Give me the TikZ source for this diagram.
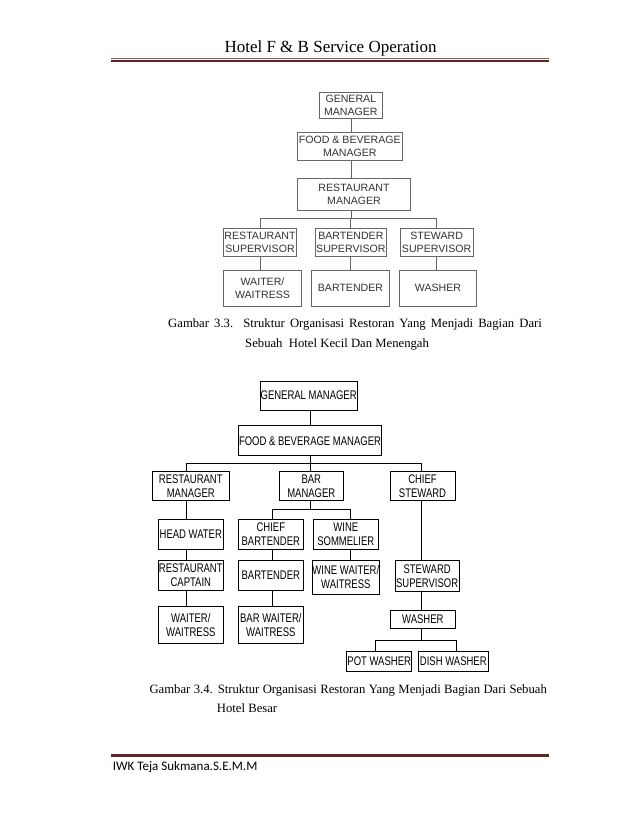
\documentclass[tikz,border=0pt]{standalone}
\usepackage{fontspec}
\setmainfont{Liberation Serif}
\newfontfamily\arialf{Liberation Sans}
\newfontfamily\arialc[FakeStretch=0.76]{Liberation Sans}
\newfontfamily\calib{Carlito}
\definecolor{hdrmaroon}{RGB}{98,36,35}
\definecolor{hdrlight}{RGB}{150,90,88}
\begin{document}
\begin{tikzpicture}[x=1pt,y=-1pt,
  boxa/.style={draw=black!60, line width=0.8pt, inner sep=0pt, align=center,
    font=\arialf\fontsize{10.6}{12.7}\selectfont, text=black!80},
  boxb/.style={draw=black, line width=0.7pt, inner sep=0pt, align=center,
    font=\arialc\fontsize{12.5}{13.7}\selectfont},
  la/.style={draw=black!60, line width=0.8pt},
  lb/.style={draw=black, line width=0.7pt},
  captxt/.style={inner sep=0pt, font=\fontsize{12.7}{15}\selectfont}]
\useasboundingbox (0,0) rectangle (638,826);
\fill[white] (0,0) rectangle (638,826);

% header
\node[anchor=base, inner sep=0pt, font=\fontsize{17}{20}\selectfont] (hdr) at (330.5,52.7) {Hotel F \& B Service Operation};
\coordinate (hl) at (111,61); \coordinate (hr) at (549,61);
\draw[hdrmaroon, line width=2.4pt] (hl) -- (hr);
\draw[hdrlight, line width=0.6pt] ([yshift=2.6pt]hl) -- ([yshift=2.6pt]hr);

% ---------- chart 1 ----------
\node[boxa, minimum width=63.7pt, minimum height=26pt] (gm1) at (350.85,105.3) {GENERAL\\MANAGER};
\node[boxa, minimum width=105pt, minimum height=28.4pt] (fb1) at (349.8,146.5) {FOOD \& BEVERAGE\\MANAGER};
\node[boxa, minimum width=113.4pt, minimum height=31.7pt] (rm1) at (354,194.15) {RESTAURANT\\MANAGER};
\node[boxa, minimum width=73.4pt, minimum height=27.7pt] (rs1) at (260,242.15) {RESTAURANT\\SUPERVISOR};
\node[boxa, minimum width=71.7pt, minimum height=27.7pt] (bs1) at (350.85,242.15) {BARTENDER\\SUPERVISOR};
\node[boxa, minimum width=73.3pt, minimum height=27.7pt] (ss1) at (436.65,242.15) {STEWARD\\SUPERVISOR};
\node[boxa, minimum width=78.4pt, minimum height=36pt] (ww1) at (262.5,288) {WAITER/\\WAITRESS};
\node[boxa, minimum width=77.6pt, minimum height=36pt] (bt1) at (350.5,288) {BARTENDER};
\node[boxa, minimum width=77.4pt, minimum height=36pt] (wa1) at (438,288) {WASHER};

\coordinate (c1m) at (351.7,218.3);
\draw[la] (gm1.south -| c1m) -- (fb1.north -| c1m);
\draw[la] (fb1.south -| c1m) -- (rm1.north -| c1m);
\draw[la] (rm1.south -| c1m) -- (c1m);
\draw[la] (rs1.north) -- (rs1.north |- c1m) -- (ss1.north |- c1m) -- (ss1.north);
\draw[la] (bs1.north) -- (bs1.north |- c1m);
\draw[la] (rs1.south) -- (rs1.south |- ww1.north);
\draw[la] (bs1.south) -- (bs1.south |- bt1.north);
\draw[la] (ss1.south) -- (ss1.south |- wa1.north);

% caption 1
\node[captxt, anchor=base west] (cap1a) at (168,327.3) {\makebox[373.7pt][s]{Gambar 3.3. Struktur Organisasi Restoran Yang Menjadi Bagian Dari}};
\node[captxt, anchor=base west] (cap1b) at (245,347.3) {Sebuah\ \ Hotel Kecil Dan Menengah};

% ---------- chart 2 ----------
\node[boxb, minimum width=97.3pt, minimum height=29pt] (gm2) at (308.65,395.5) {GENERAL MANAGER};
\node[boxb, minimum width=143.4pt, minimum height=30pt] (fb2) at (310,440.7) {FOOD \& BEVERAGE MANAGER};
\node[boxb, minimum width=77pt, minimum height=29pt] (rm2) at (190.8,486.2) {RESTAURANT\\MANAGER};
\node[boxb, minimum width=64pt, minimum height=29pt] (bm2) at (311.3,486.2) {BAR\\MANAGER};
\node[boxb, minimum width=65pt, minimum height=29pt] (cs2) at (422.5,486.2) {CHIEF\\STEWARD};
\node[boxb, minimum width=65pt, minimum height=30pt] (hw2) at (190.8,534.3) {HEAD WATER};
\node[boxb, minimum width=65pt, minimum height=30pt] (cb2) at (270.8,534.3) {CHIEF\\BARTENDER};
\node[boxb, minimum width=65pt, minimum height=30pt] (ws2) at (345.8,534.3) {WINE\\SOMMELIER};
\node[boxb, minimum width=65pt, minimum height=30.7pt] (rc2) at (190.8,575.35) {RESTAURANT\\CAPTAIN};
\node[boxb, minimum width=65pt, minimum height=30.7pt] (bt2) at (270.8,575.35) {BARTENDER};
\node[boxb, minimum width=65pt, minimum height=34pt] (wt2) at (345.8,577) {WINE WAITER/\\WAITRESS};
\node[boxb, minimum width=64.3pt, minimum height=31.7pt] (ss2) at (427.15,575.85) {STEWARD\\SUPERVISOR};
\node[boxb, minimum width=65pt, minimum height=36.6pt] (wa2) at (190.8,625) {WAITER/\\WAITRESS};
\node[boxb, minimum width=65pt, minimum height=36.6pt] (bw2) at (270.8,625) {BAR WAITER/\\WAITRESS};
\node[boxb, minimum width=64.3pt, minimum height=17.6pt] (wsh2) at (422.85,619.5) {WASHER};
\node[boxb, minimum width=65pt, minimum height=19.3pt] (pw2) at (379.2,661.35) {POT WASHER};
\node[boxb, minimum width=70pt, minimum height=19.3pt] (dw2) at (453.3,661.35) {DISH WASHER};

\coordinate (cA) at (186.7,463.3);
\coordinate (cB) at (310.7,463.3);
\coordinate (cC) at (421.7,463.3);
\coordinate (bL) at (272.7,509.3);
\coordinate (bR) at (350.7,509.3);
\coordinate (wL) at (375.7,640);
\coordinate (wR) at (456,640);

\draw[lb] (gm2.south -| cB) -- (fb2.north -| cB);
\draw[lb] (fb2.south -| cB) -- (cB);
\draw[lb] (rm2.north -| cA) -- (cA) -- (cC) -- (cs2.north -| cC);
\draw[lb] (cB) -- (bm2.north -| cB);
\draw[lb] (rm2.south -| cA) -- (hw2.north -| cA);
\draw[lb] (hw2.south -| cA) -- (rc2.north -| cA);
\draw[lb] (rc2.south -| cA) -- (wa2.north -| cA);
\draw[lb] (bm2.south -| cB) -- (cB |- bL);
\draw[lb] (cb2.north -| bL) -- (bL) -- (bR) -- (ws2.north -| bR);
\draw[lb] (cb2.south -| bL) -- (bt2.north -| bL);
\draw[lb] (bt2.south -| bL) -- (bw2.north -| bL);
\draw[lb] (ws2.south -| bR) -- (wt2.north -| bR);
\draw[lb] (cs2.south -| cC) -- (ss2.north -| cC);
\draw[lb] (ss2.south -| cC) -- (wsh2.north -| cC);
\draw[lb] (wsh2.south -| cC) -- (cC |- wL);
\draw[lb] (pw2.north -| wL) -- (wL) -- (wR) -- (dw2.north -| wR);

% caption 2
\node[captxt, anchor=base west] (cap2a) at (149.3,693.3) {\makebox[397.4pt][s]{Gambar 3.4. Struktur Organisasi Restoran Yang Menjadi Bagian Dari Sebuah}};
\node[captxt, anchor=base west] (cap2b) at (216.7,712.3) {Hotel Besar};

% footer
\coordinate (fl) at (111,755.3); \coordinate (fr) at (549,755.3);
\draw[hdrmaroon, line width=3pt] (fl) -- (fr);
\node[anchor=base west, inner sep=0pt, font=\calib\fontsize{13}{15}\selectfont] (ftr) at (112.7,770.7) {IWK Teja Sukmana.S.E.M.M};
\end{tikzpicture}
\end{document}
